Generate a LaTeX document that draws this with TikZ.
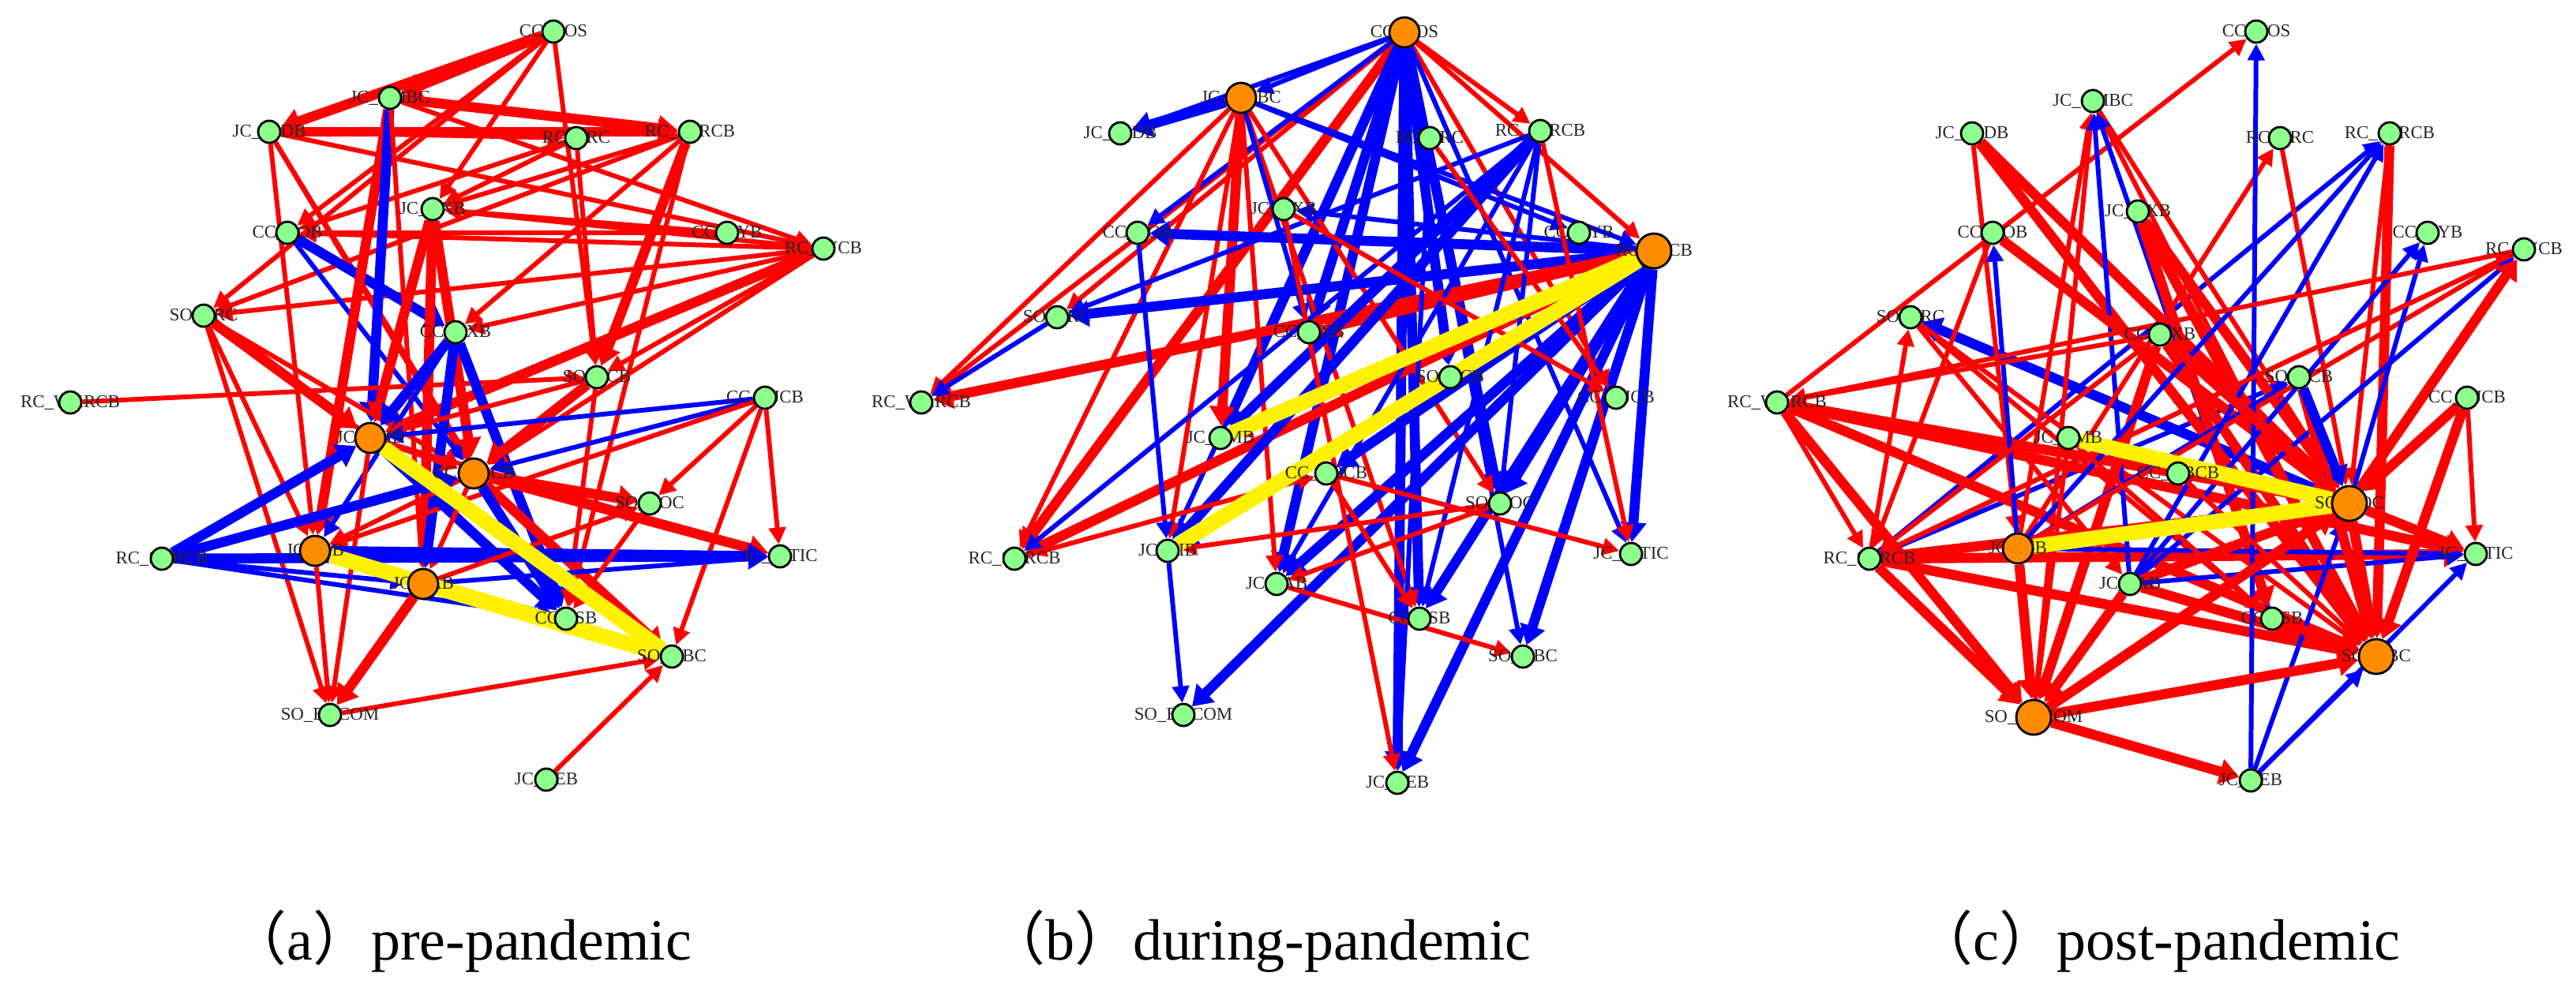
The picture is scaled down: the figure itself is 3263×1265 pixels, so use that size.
\documentclass[tikz,border=0pt]{standalone}
\usepackage{fontspec}
\setmainfont{Liberation Serif}
\newfontfamily\cjk{Noto Sans CJK SC}
\usetikzlibrary{arrows.meta,backgrounds}
\tikzset{
 lab/.style={font=\fontsize{6.5}{7}\selectfont, inner sep=0pt, text=black!85},
 gn/.style={circle, draw=black, line width=0.8pt, fill=green!45!white, minimum size=0.28cm, inner sep=0pt},
 orn/.style={circle, draw=black, line width=0.8pt, fill=orange!90!yellow, minimum size=0.38cm, inner sep=0pt},
 ornb/.style={orn, minimum size=0.44cm},
 re/.style={draw=red, line width=1.7pt, -{Triangle[length=6pt,width=6pt]}},
 RE/.style={draw=red, line width=3.6pt, -{Triangle[length=7pt,width=9pt]}},
 bl/.style={draw=blue, line width=1.7pt, -{Triangle[length=6pt,width=6pt]}},
 BL/.style={draw=blue, line width=3.6pt, -{Triangle[length=7pt,width=9pt]}},
 ye/.style={draw=yellow, line width=5.5pt},
 captxt/.style={font=\fontsize{21}{24}\selectfont, inner sep=0pt}
}
\newcommand\bk[6]{\node[lab] at (#3,#4) {#5}; \node[#6] (#1) at (#3,#4) {};}
\begin{document}
\begin{tikzpicture}[x=0.01cm,y=-0.01cm]
\useasboundingbox (0,0) rectangle (3263,1265);
% ---------- panel a ----------
\bk{aBOS}{}{701}{40}{CC\_BOS}{gn}
\bk{aCMBC}{}{494}{124}{JC\_CMBC}{gn}
\bk{aSPDB}{}{341}{167}{JC\_SPDB}{gn}
\bk{aZRC}{}{730}{175}{RC\_ZRC}{gn}
\bk{aSZRCB}{}{874}{167}{RC\_SZRCB}{gn}
\bk{aHXB}{}{548}{265}{JC\_HXB}{gn}
\bk{aBOB}{}{364}{295}{CC\_BOB}{gn}
\bk{aCYB}{}{921}{295}{CC\_CYB}{gn}
\bk{aJYCB}{}{1043}{315}{RC\_JYCB}{gn}
\bk{aBRC}{}{258}{400}{SO\_BRC}{gn}
\bk{aCHXB}{}{577}{421}{CC\_HXB}{gn}
\bk{aCCB}{}{756}{478}{SO\_CCB}{gn}
\bk{aWX}{}{89}{510}{RC\_WXRCB}{gn}
\bk{aNJCB}{}{969}{504}{CC\_NJCB}{gn}
\bk{aCMB}{}{469}{555}{JC\_CMB}{orn}
\bk{aNBCB}{}{600}{600}{CC\_NBCB}{orn}
\bk{aBOC}{}{823}{638}{SO\_BOC}{gn}
\bk{aCITIC}{}{988}{705}{JC\_CITIC}{gn}
\bk{aSH}{}{205}{708}{RC\_SHRCB}{gn}
\bk{aCIB}{}{399}{698}{JC\_CIB}{orn}
\bk{aPAB}{}{536}{740}{JC\_PAB}{orn}
\bk{aJSB}{}{717}{784}{CC\_JSB}{gn}
\bk{aABC}{}{851}{832}{SO\_ABC}{gn}
\bk{aBOCOM}{}{418}{906}{SO\_BOCOM}{gn}
\bk{aCEB}{}{692}{988}{JC\_CEB}{gn}
% ---------- panel b ----------
\bk{bBOS}{}{1779}{41}{CC\_BOS}{orn}
\bk{bCMBC}{}{1572}{124}{JC\_CMBC}{orn}
\bk{bSPDB}{}{1419}{169}{JC\_SPDB}{gn}
\bk{bZRC}{}{1811}{175}{RC\_ZRC}{gn}
\bk{bSZRCB}{}{1951}{166}{RC\_SZRCB}{gn}
\bk{bHXB}{}{1626}{265}{JC\_HXB}{gn}
\bk{bBOB}{}{1441}{295}{CC\_BOB}{gn}
\bk{bCYB}{}{2000}{295}{CC\_CYB}{gn}
\bk{bJYCB}{}{2095}{318}{RC\_JYCB}{ornb}
\bk{bBRC}{}{1339}{402}{SO\_BRC}{gn}
\bk{bCHXB}{}{1658}{421}{CC\_HXB}{gn}
\bk{bCCB}{}{1837}{478}{SO\_CCB}{gn}
\bk{bWX}{}{1167}{510}{RC\_WXRCB}{gn}
\bk{bNJCB}{}{2047}{504}{CC\_NJCB}{gn}
\bk{bCMB}{}{1546}{555}{JC\_CMB}{gn}
\bk{bNBCB}{}{1680}{600}{CC\_NBCB}{gn}
\bk{bBOC}{}{1900}{638}{SO\_BOC}{gn}
\bk{bCITIC}{}{2066}{702}{JC\_CITIC}{gn}
\bk{bSH}{}{1285}{708}{RC\_SHRCB}{gn}
\bk{bCIB}{}{1479}{698}{JC\_CIB}{gn}
\bk{bPAB}{}{1617}{740}{JC\_PAB}{gn}
\bk{bJSB}{}{1798}{784}{CC\_JSB}{gn}
\bk{bABC}{}{1929}{832}{SO\_ABC}{gn}
\bk{bBOCOM}{}{1499}{906}{SO\_BOCOM}{gn}
\bk{bCEB}{}{1770}{992}{JC\_CEB}{gn}
% ---------- panel c ----------
\bk{cBOS}{}{2858}{40}{CC\_BOS}{gn}
\bk{cCMBC}{}{2651}{128}{JC\_CMBC}{gn}
\bk{cSPDB}{}{2498}{169}{JC\_SPDB}{gn}
\bk{cZRC}{}{2888}{175}{RC\_ZRC}{gn}
\bk{cSZRCB}{}{3027}{169}{RC\_SZRCB}{gn}
\bk{cHXB}{}{2708}{268}{JC\_HXB}{gn}
\bk{cBOB}{}{2524}{295}{CC\_BOB}{gn}
\bk{cCYB}{}{3075}{295}{CC\_CYB}{gn}
\bk{cJYCB}{}{3197}{316}{RC\_JYCB}{gn}
\bk{cBRC}{}{2420}{402}{SO\_BRC}{gn}
\bk{cCHXB}{}{2736}{424}{CC\_HXB}{gn}
\bk{cCCB}{}{2912}{478}{SO\_CCB}{gn}
\bk{cWX}{}{2251}{510}{RC\_WXRCB}{gn}
\bk{cNJCB}{}{3125}{504}{CC\_NJCB}{gn}
\bk{cCMB}{}{2620}{555}{JC\_CMB}{gn}
\bk{cNBCB}{}{2759}{600}{CC\_NBCB}{gn}
\bk{cBOC}{}{2976}{638}{SO\_BOC}{ornb}
\bk{cCITIC}{}{3136}{702}{JC\_CITIC}{gn}
\bk{cSH}{}{2368}{708}{RC\_SHRCB}{gn}
\bk{cCIB}{}{2556}{695}{JC\_CIB}{orn}
\bk{cPAB}{}{2698}{740}{JC\_PAB}{gn}
\bk{cJSB}{}{2878}{784}{CC\_JSB}{gn}
\bk{cABC}{}{3010}{832}{SO\_ABC}{ornb}
\bk{cBOCOM}{}{2576}{909}{SO\_BOCOM}{ornb}
\bk{cCEB}{}{2851}{989}{JC\_CEB}{gn}
% ---------- edges ----------
\begin{pgfonlayer}{background}
\foreach \s/\t/\st in {
 BOS/CMBC/RE, BOS/SPDB/RE, BOS/HXB/re, BOS/CCB/re, BOS/BOB/re, BOS/BRC/re,
 SPDB/SZRCB/RE, SPDB/ZRC/re, CMBC/SZRCB/RE, CMBC/JYCB/re, SPDB/JYCB/re,
 SZRCB/CHXB/re, SZRCB/BRC/re, SZRCB/CCB/RE, SZRCB/JSB/re, SZRCB/HXB/re,
 ZRC/HXB/re, ZRC/BOB/re, ZRC/CCB/re,
 JYCB/BRC/re, JYCB/BOB/re, JYCB/HXB/re, JYCB/CMB/RE, JYCB/CHXB/re, JYCB/CCB/re, JYCB/NBCB/re,
 CYB/HXB/re, CYB/BOB/re,
 SPDB/CIB/re, SPDB/NBCB/re, SPDB/JSB/re,
 BOB/CHXB/BL, BOB/NBCB/bl,
 CMBC/CIB/RE, CMBC/CMB/BL, CMBC/PAB/re,
 HXB/CMB/RE, HXB/PAB/RE, HXB/NBCB/RE,
 BRC/CMB/RE, BRC/NBCB/re, BRC/CIB/re, BRC/BOCOM/re, BRC/ABC/re,
 WX/CCB/re,
 CHXB/CMB/BL, CHXB/CIB/bl, CHXB/JSB/BL, CHXB/PAB/BL,
 CCB/CMB/re, CCB/NBCB/RE, CCB/JSB/re,
 NJCB/CMB/bl, NJCB/NBCB/bl, NJCB/BOC/re, NJCB/CITIC/re, NJCB/ABC/re, NJCB/CIB/re,
 CMB/NBCB/re, CMB/JSB/BL, CMB/BOCOM/re, CMB/CITIC/re,
 NBCB/BOC/RE, NBCB/CITIC/RE, NBCB/ABC/RE, NBCB/JSB/BL, NBCB/PAB/re, NBCB/CIB/re,
 SH/CMB/BL, SH/NBCB/BL, SH/CITIC/BL, SH/JSB/bl, SH/PAB/bl,
 CIB/CITIC/BL, CIB/JSB/bl, CIB/BOCOM/re,
 PAB/BOCOM/RE, PAB/BOC/re, PAB/CITIC/bl,
 BOCOM/ABC/re, CEB/ABC/re, BOC/JSB/re}
 \draw[\st] (a\s) -- (a\t);
\draw[ye] (aCMB) -- (aABC);
\draw[ye] (aCIB) -- (aABC);
\draw[ye] (aPAB) -- (aABC);
\foreach \s/\t/\st in {
 BOS/CMBC/bl, BOS/SPDB/bl, BOS/BRC/re, BOS/WX/re, BOS/SH/RE, BOS/CIB/bl, BOS/CMB/BL,
 BOS/PAB/BL, BOS/JSB/BL, BOS/CEB/BL, BOS/ABC/bl, BOS/BOC/BL, BOS/NJCB/re, BOS/CITIC/bl,
 BOS/SZRCB/re, BOS/CCB/BL, BOS/CHXB/BL, BOS/JYCB/re, BOS/BOB/bl,
 CMBC/SPDB/BL, CMBC/WX/re, CMBC/SH/re, CMBC/CIB/re, CMBC/CMB/RE, CMBC/PAB/re,
 CMBC/JSB/re, CMBC/BOC/re, CMBC/CHXB/bl, CMBC/CYB/bl, CMBC/JYCB/bl,
 JYCB/BRC/BL, JYCB/BOB/BL, JYCB/CHXB/RE, JYCB/WX/RE, JYCB/SH/RE, JYCB/CIB/BL, JYCB/CMB/RE,
 JYCB/PAB/BL, JYCB/JSB/BL, JYCB/CEB/BL, JYCB/ABC/BL, JYCB/BOC/BL, JYCB/CITIC/BL,
 JYCB/NBCB/BL, JYCB/BOCOM/BL, JYCB/CCB/bl, JYCB/HXB/bl,
 SZRCB/BRC/bl, SZRCB/CIB/BL, SZRCB/CMB/BL, SZRCB/PAB/bl, SZRCB/BOC/bl,
 SZRCB/CITIC/re, SZRCB/SH/bl, SZRCB/JSB/bl,
 ZRC/NJCB/re, ZRC/CEB/bl, HXB/CEB/re, HXB/NJCB/re,
 BOC/CIB/re, BOC/PAB/re, NBCB/JSB/re, PAB/ABC/re, BOB/CIB/bl, CIB/BOCOM/bl,
 SH/NBCB/re, BRC/WX/bl, NBCB/CITIC/re}
 \draw[\st] (b\s) -- (b\t);
\draw[ye] (bCIB) -- (bJYCB);
\draw[ye] (bCMB) -- (bJYCB);
\foreach \s/\t/\st in {
 SH/BRC/re, SH/BOC/RE, SH/ABC/RE, SH/BOCOM/RE, SH/CITIC/RE, SH/SZRCB/bl, SH/CCB/bl, SH/JYCB/re,
 WX/BOS/re, WX/BOC/RE, WX/ABC/RE, WX/BOCOM/RE, WX/SH/re, WX/CITIC/RE,
 BRC/JSB/re, BOC/BRC/BL, BRC/ABC/re, BRC/PAB/re,
 SPDB/BOC/RE, SPDB/ABC/RE, SPDB/CIB/re,
 CIB/CMBC/re, BOCOM/CMBC/re, PAB/CMBC/bl, CMBC/ABC/re, CMBC/BOC/re, JSB/CMBC/bl,
 BOB/BOC/RE, BOB/SH/re, CIB/BOB/bl,
 HXB/BOC/RE, HXB/ABC/RE, HXB/JSB/RE,
 CHXB/BOCOM/RE, CHXB/ABC/RE, CHXB/SH/re, CHXB/WX/re,
 CIB/ZRC/re, ZRC/BOC/re,
 SZRCB/ABC/RE, SZRCB/BOC/re,
 CIB/SZRCB/bl, CIB/CCB/bl, CIB/BOCOM/RE, CIB/JYCB/re, CIB/CITIC/bl,
 PAB/SZRCB/bl, PAB/CYB/bl, PAB/JYCB/bl, PAB/BOC/RE, PAB/BOCOM/RE, PAB/ABC/RE, PAB/CITIC/bl,
 CEB/BOS/bl, CEB/CITIC/bl, CEB/BOC/bl, CEB/ABC/bl,
 BOCOM/CEB/RE, BOCOM/ABC/RE, BOCOM/BOC/RE,
 NJCB/CITIC/re, NJCB/BOC/RE, NJCB/ABC/RE,
 CCB/ABC/RE, CMB/JSB/re, CMB/BOCOM/re,
 NBCB/BOC/RE, NBCB/ABC/re,
 BOC/ABC/RE, BOC/CITIC/RE, BOC/JYCB/RE, BOC/CYB/bl, JSB/ABC/RE,
 JYCB/SH/re, JYCB/WX/re, CCB/BOC/BL, CHXB/BOC/RE}
 \draw[\st] (c\s) -- (c\t);
\draw[ye] (cCMB) -- (cBOC);
\draw[ye] (cCIB) -- (cBOC);
\end{pgfonlayer}
% ---------- captions ----------
\node[captxt] (capa) at (583,1193) {{\cjk （}a{\cjk ）}pre-pandemic};
\node[captxt] (capb) at (1595,1193) {{\cjk （}b{\cjk ）}during-pandemic};
\node[captxt] (capc) at (2733,1193) {{\cjk （}c{\cjk ）}post-pandemic};
\end{tikzpicture}
\end{document}
